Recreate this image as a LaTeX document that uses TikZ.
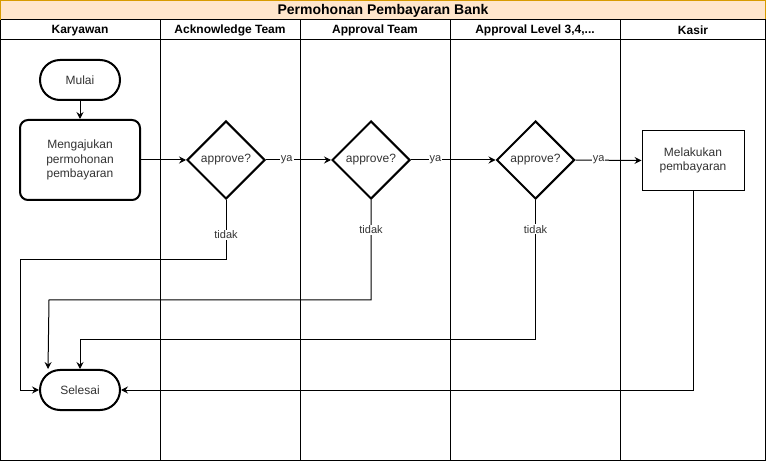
\documentclass[tikz,border=0pt]{standalone}
\usepackage{fontspec}
\setmainfont{Liberation Sans}
\usetikzlibrary{arrows.meta,shapes.geometric}
\definecolor{titlefill}{HTML}{FFE6CC}
\definecolor{titledraw}{HTML}{D79B00}
\definecolor{txt}{HTML}{333333}
\tikzset{
  lane/.style={draw=black, line width=1pt},
  hdr/.style={font=\fontsize{12}{14}\selectfont\bfseries, text=black, inner sep=0pt},
  term/.style={draw=black, line width=2pt, rectangle, rounded corners=20pt, minimum width=80pt, minimum height=40pt, font=\fontsize{12}{14.4}\selectfont, text=txt, inner sep=0pt},
  procbox/.style={draw=black, line width=2pt, rectangle, rounded corners=8pt, minimum width=120pt, minimum height=80pt, align=center, font=\fontsize{12}{14.4}\selectfont, text=txt, inner sep=0pt},
  plainbox/.style={draw=black, line width=1pt, rectangle, minimum width=102pt, minimum height=60pt, align=center, font=\fontsize{12}{14.4}\selectfont, text=txt, inner sep=0pt},
  decision/.style={draw=black, line width=2pt, diamond, aspect=1, minimum width=78pt, minimum height=78pt, font=\fontsize{12}{14.4}\selectfont, text=txt, inner sep=0pt},
  conn/.style={draw=black, line width=1pt, -{Stealth[length=7pt,width=7pt,inset=2.5pt]}},
  lbl/.style={fill=white, font=\fontsize{11}{13}\selectfont, text=txt, inner sep=1pt}
}
\begin{document}
\begin{tikzpicture}[x=1pt,y=-1pt]
\useasboundingbox (0,0) rectangle (766,462);
% pool frame
\fill[white] (0,0) rectangle (766,462);
\draw[fill=titlefill, draw=titledraw, line width=1pt] (0.5,0.5) rectangle (765.5,20);
\node[hdr, font=\fontsize{14}{16}\selectfont\bfseries] (title) at (383,10.5) {Permohonan Pembayaran Bank};
\draw[lane] (0.5,20) -- (0.5,460.5) -- (765.5,460.5) -- (765.5,20);
\draw[lane] (0.5,20) -- (765.5,20);
\draw[lane] (0.5,40) -- (765.5,40);
\foreach \xx in {160,300,450,620} { \draw[lane] (\xx,20) -- (\xx,460.5); }
\node[hdr] (h1) at (80,30.5) {Karyawan};
\node[hdr] (h2) at (230,30.5) {Acknowledge Team};
\node[hdr] (h3) at (375,30.5) {Approval Team};
\node[hdr] (h4) at (535,30.5) {Approval Level 3,4,...};
\node[hdr] (h5) at (693,30.5) {Kasir};
% nodes
\node[term] (mulai) at (80,80) {Mulai};
\node[procbox] (aju) at (80,160) {Mengajukan\\permohonan\\pembayaran};
\node[decision] (d1) at (226,160) {approve?};
\node[decision] (d2) at (371,160) {approve?};
\node[decision] (d3) at (535.5,160) {approve?};
\node[plainbox] (bayar) at (693,160.5) {Melakukan\\pembayaran};
\node[term] (sel) at (80,390) {Selesai};
% connectors
\draw[conn] (mulai) -- (aju);
\draw[conn] (aju) -- (d1);
\draw[conn] (d1.east) -- node[lbl,pos=0.32]{ya} (d2.west);
\draw[conn] (d2.east) -- node[lbl,pos=0.29]{ya} (d3.west);
\draw[conn] (d3.east) -- node[lbl,pos=0.35]{ya} (bayar.west);
\coordinate (c1) at (20,260);
\coordinate (c2) at (49,300);
\coordinate (c3) at (80,340);
\draw[conn] (d1.south) -- node[lbl,pos=0.58]{tidak} (d1.south |- c1) -- (c1) |- (sel.west);
\draw[conn] (d2.south) -- node[lbl,pos=0.3]{tidak} (d2.south |- c2) -- (c2) -- ([xshift=9pt]sel.north west);
\draw[conn] (d3.south) -- node[lbl,pos=0.21]{tidak} (d3.south |- c3) -- (c3) -- (sel.north);
\draw[conn] (bayar.south) |- (sel.east);
\end{tikzpicture}
\end{document}
